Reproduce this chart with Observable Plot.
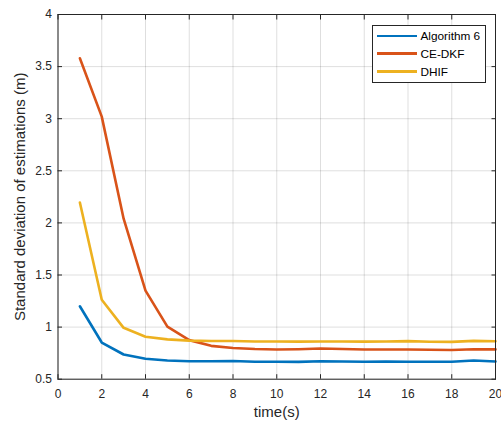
<!DOCTYPE html>
<html>
<head>
<meta charset="utf-8">
<script src="https://cdn.jsdelivr.net/npm/d3@7"></script>
<script src="https://cdn.jsdelivr.net/npm/@observablehq/plot@0.6"></script>
<style>
  html, body { margin: 0; padding: 0; background: #fff; }
  #wrap { position: relative; width: 501px; height: 423px; overflow: hidden; font-family: "Liberation Sans", Arial, sans-serif; }
  #wrap g[aria-label="x-axis label"] text, #wrap g[aria-label="y-axis label"] text { font-size: 15px; }
  #legend { position: absolute; left: 371.5px; top: 25px; width: 112px; height: 55.5px; background: #fff; border: 1px solid #262626; font-size: 11.8px; color: #000; }
  #legend .row { position: absolute; left: 0; height: 14px; display: flex; align-items: center; }
  #legend .sw { width: 40px; height: 2.8px; margin-left: 4px; margin-right: 4px; }
</style>
</head>
<body>
<div id="wrap"></div>
<script>
const time = [1,2,3,4,5,6,7,8,9,10,11,12,13,14,15,16,17,18,19,20];
const algorithm6 = [1.20,0.852,0.737,0.696,0.68,0.672,0.672,0.675,0.668,0.667,0.666,0.672,0.67,0.668,0.669,0.668,0.667,0.668,0.68,0.67];
const ceDKF = [3.58,3.02,2.04,1.35,1.005,0.875,0.82,0.80,0.79,0.785,0.788,0.795,0.79,0.785,0.785,0.785,0.783,0.78,0.788,0.786];
const dhif = [2.195,1.262,0.993,0.908,0.882,0.870,0.866,0.866,0.862,0.862,0.861,0.862,0.862,0.861,0.862,0.865,0.86,0.858,0.868,0.864];
const seriesNames = ["Algorithm 6", "CE-DKF", "DHIF"];
const seriesColors = ["#0072BD", "#D95319", "#EDB120"];
const xTicks = [0,2,4,6,8,10,12,14,16,18,20];
const yTicks = [0.5,1,1.5,2,2.5,3,3.5,4];
const yTickLabels = ["0.5","1","1.5","2","2.5","3","3.5","4"];

const seriesValues = [algorithm6, ceDKF, dhif];
const rows = [];
seriesNames.forEach((name, s) => time.forEach((t, i) => rows.push({t, v: seriesValues[s][i], series: name})));

const axisColor = "#262626";
const chart = Plot.plot({
  width: 501,
  height: 423,
  marginLeft: 57.5,
  marginRight: 6,
  marginTop: 14,
  marginBottom: 44.3,
  style: {fontFamily: "Liberation Sans, Arial, sans-serif", fontSize: "12px", color: axisColor, background: "#fff", overflow: "visible"},
  x: {domain: [0, 20]},
  y: {domain: [0.5, 4]},
  color: {domain: seriesNames, range: seriesColors},
  marks: [
    Plot.gridX(xTicks, {stroke: "#000", strokeOpacity: 0.13}),
    Plot.gridY(yTicks, {stroke: "#000", strokeOpacity: 0.13}),
    Plot.line(rows, {x: "t", y: "v", z: "series", stroke: "series", strokeWidth: 2.6}),
    Plot.frame({stroke: axisColor, strokeWidth: 1}),
    Plot.axisX(xTicks, {anchor: "bottom", tickSize: -4.5, tickPadding: 15, label: "time(s)", labelAnchor: "center", labelArrow: "none", labelOffset: 38, color: axisColor}),
    Plot.axisX(xTicks, {anchor: "top", tickSize: -4.5, tickFormat: () => "", label: null, color: axisColor}),
    Plot.axisY(yTicks, {anchor: "left", tickSize: -4.5, tickPadding: 10.5, tickFormat: (d) => yTickLabels[yTicks.indexOf(d)], label: "Standard deviation of estimations (m)", labelAnchor: "center", labelArrow: "none", labelOffset: 44, color: axisColor}),
    Plot.axisY(yTicks, {anchor: "right", tickSize: -4.5, tickFormat: () => "", label: null, color: axisColor})
  ]
});
const wrap = document.getElementById("wrap");
wrap.appendChild(chart);

const legend = document.createElement("div");
legend.id = "legend";
seriesNames.forEach((name, i) => {
  const row = document.createElement("div");
  row.className = "row";
  row.style.top = (3 + i * 17.8) + "px";
  const sw = document.createElement("div");
  sw.className = "sw";
  sw.style.background = seriesColors[i];
  const tx = document.createElement("span");
  tx.textContent = name;
  row.appendChild(sw);
  row.appendChild(tx);
  legend.appendChild(row);
});
wrap.appendChild(legend);
</script>
</body>
</html>
